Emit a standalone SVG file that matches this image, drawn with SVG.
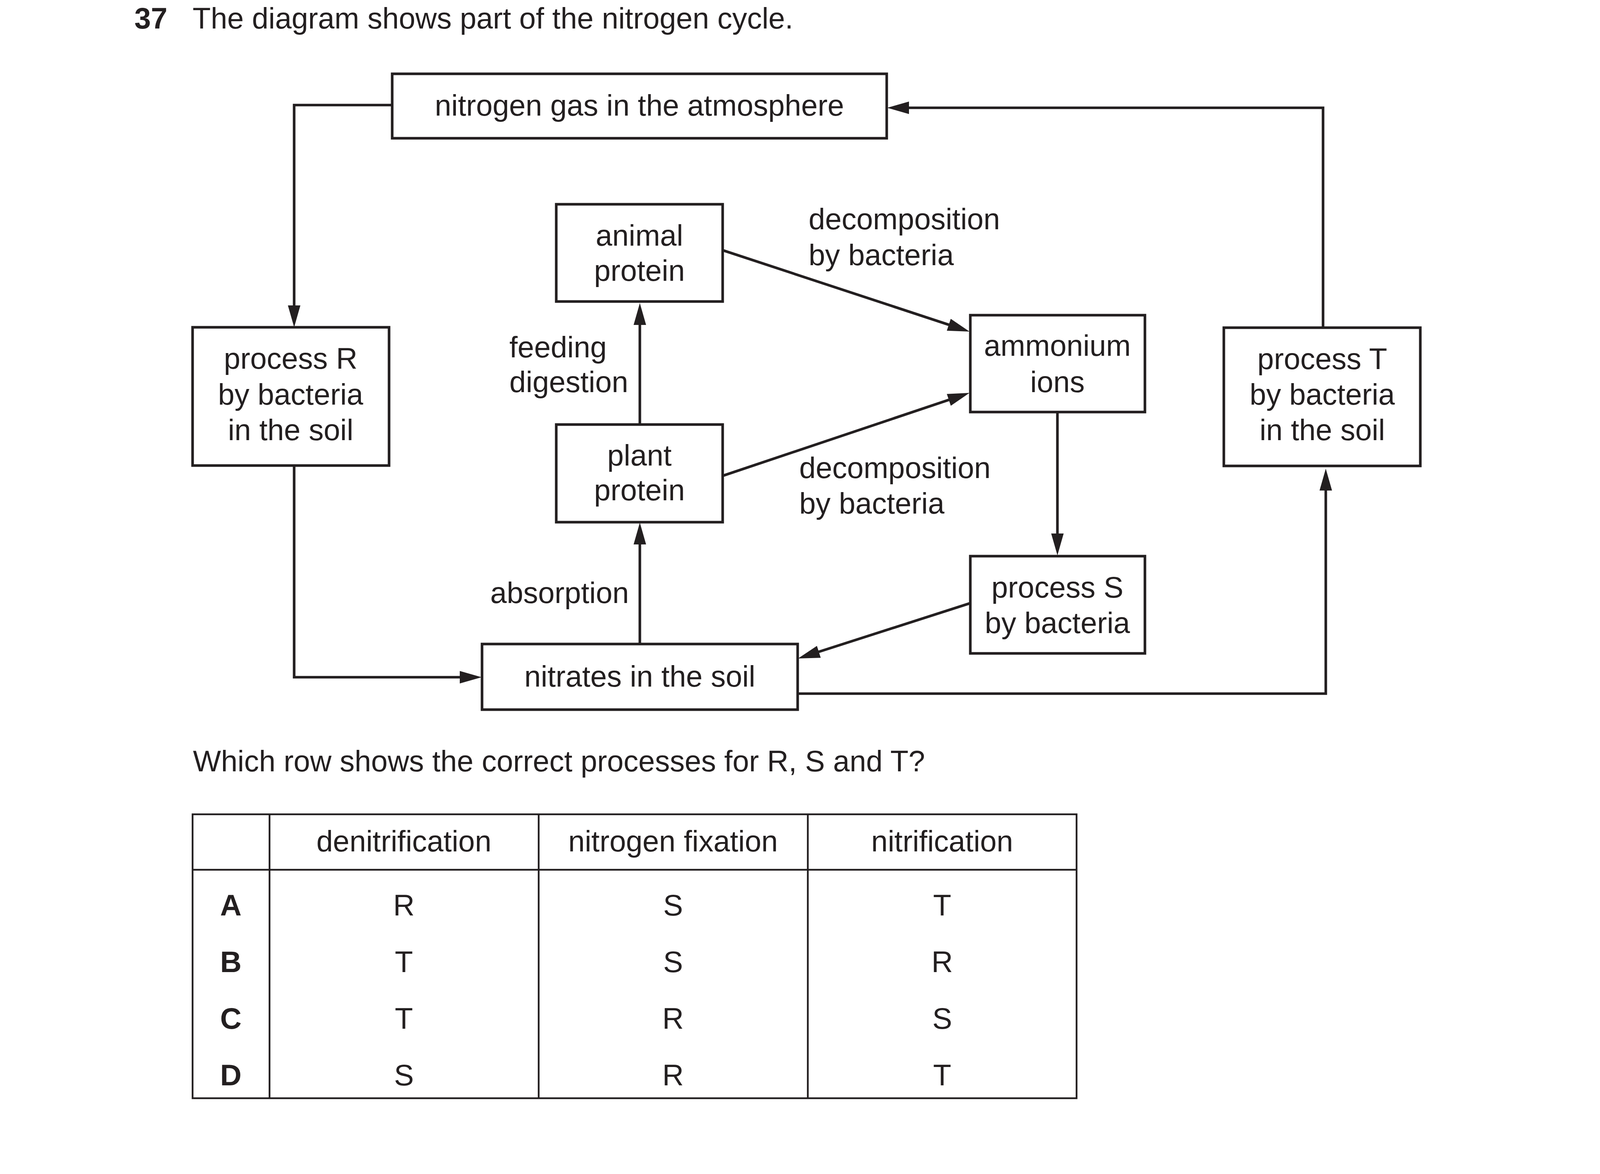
<svg xmlns="http://www.w3.org/2000/svg" width="4132" height="3006" viewBox="0 0 4132 3006">
<style>
  text { font-family: "Liberation Sans", Arial, sans-serif; font-size: 76px; fill: #231f20; }
  .c { text-anchor: middle; }
  .b { font-weight: bold; }
  .box { fill: #ffffff; stroke: #231f20; stroke-width: 6.7; }
  .ln { fill: none; stroke: #231f20; stroke-width: 6.7; }
  .tb { fill: none; stroke: #231f20; stroke-width: 4.5; }
</style>
<defs>
  <marker id="ah" markerUnits="userSpaceOnUse" markerWidth="60" markerHeight="36" refX="36" refY="16" orient="auto">
    <path d="M0,0 L56,16 L0,32 Z" fill="#231f20"/>
  </marker>
</defs>
<rect width="4132" height="3006" fill="#ffffff"/>

<text x="344" y="73" class="b">37</text>
<text x="493" y="73">The diagram shows part of the nitrogen cycle.</text>

<g id="connectors">
  <path class="ln" d="M1004,269 H753 V818" marker-end="url(#ah)"/>
  <path class="ln" d="M753,1193 V1734 H1213" marker-end="url(#ah)"/>
  <path class="ln" d="M2042,1776 H3394 V1220" marker-end="url(#ah)"/>
  <path class="ln" d="M3387,838 V276 H2291" marker-end="url(#ah)"/>
  <path class="ln" d="M1638,1087 V796" marker-end="url(#ah)"/>
  <path class="ln" d="M1638,1649 V1358" marker-end="url(#ah)"/>
  <path class="ln" d="M1851,641 L2463,842.7" marker-end="url(#ah)"/>
  <path class="ln" d="M1851,1218 L2463,1012.4" marker-end="url(#ah)"/>
  <path class="ln" d="M2707,1056 V1402" marker-end="url(#ah)"/>
  <path class="ln" d="M2482,1545 L2062,1679.9" marker-end="url(#ah)"/>
</g>

<g id="labels">
  <text x="2070" y="587">decomposition</text>
  <text x="2070" y="679">by bacteria</text>
  <text x="2046" y="1224">decomposition</text>
  <text x="2046" y="1315">by bacteria</text>
  <text x="1304" y="915">feeding</text>
  <text x="1304" y="1004">digestion</text>
  <text x="1255" y="1544">absorption</text>
</g>

<g id="nitrogen-gas">
  <rect class="box" x="1004" y="189" width="1266" height="165"/>
  <text class="c" x="1637" y="296">nitrogen gas in the atmosphere</text>
</g>
<g id="process-r">
  <rect class="box" x="493" y="838" width="503" height="354"/>
  <text class="c" x="744" y="944">process R</text>
  <text class="c" x="744" y="1036">by bacteria</text>
  <text class="c" x="744" y="1127">in the soil</text>
</g>
<g id="animal-protein">
  <rect class="box" x="1424" y="523" width="426" height="249"/>
  <text class="c" x="1637" y="629">animal</text>
  <text class="c" x="1637" y="719">protein</text>
</g>
<g id="plant-protein">
  <rect class="box" x="1424" y="1087" width="426" height="250"/>
  <text class="c" x="1637" y="1192">plant</text>
  <text class="c" x="1637" y="1281">protein</text>
</g>
<g id="ammonium-ions">
  <rect class="box" x="2484" y="807" width="447" height="248"/>
  <text class="c" x="2707" y="911">ammonium</text>
  <text class="c" x="2707" y="1004">ions</text>
</g>
<g id="process-s">
  <rect class="box" x="2484" y="1424" width="447" height="249"/>
  <text class="c" x="2707" y="1530">process S</text>
  <text class="c" x="2707" y="1621">by bacteria</text>
</g>
<g id="process-t">
  <rect class="box" x="3133" y="839" width="503" height="354"/>
  <text class="c" x="3385" y="945">process T</text>
  <text class="c" x="3385" y="1036">by bacteria</text>
  <text class="c" x="3385" y="1127">in the soil</text>
</g>
<g id="nitrates">
  <rect class="box" x="1234" y="1649" width="808" height="168"/>
  <text class="c" x="1638" y="1758">nitrates in the soil</text>
</g>

<text x="494" y="1975">Which row shows the correct processes for R, S and T?</text>

<g id="table">
  <rect class="tb" x="493" y="2085" width="2263" height="727"/>
  <line class="tb" x1="690" y1="2085" x2="690" y2="2812"/>
  <line class="tb" x1="1379" y1="2085" x2="1379" y2="2812"/>
  <line class="tb" x1="2068" y1="2085" x2="2068" y2="2812"/>
  <line class="tb" x1="493" y1="2227" x2="2756" y2="2227"/>
  <text class="c" x="1034" y="2180">denitrification</text>
  <text class="c" x="1723" y="2180">nitrogen fixation</text>
  <text class="c" x="2412" y="2180">nitrification</text>
  <text class="c b" x="591" y="2344">A</text>
  <text class="c" x="1034" y="2344">R</text>
  <text class="c" x="1723" y="2344">S</text>
  <text class="c" x="2412" y="2344">T</text>
  <text class="c b" x="591" y="2489">B</text>
  <text class="c" x="1034" y="2489">T</text>
  <text class="c" x="1723" y="2489">S</text>
  <text class="c" x="2412" y="2489">R</text>
  <text class="c b" x="591" y="2634">C</text>
  <text class="c" x="1034" y="2634">T</text>
  <text class="c" x="1723" y="2634">R</text>
  <text class="c" x="2412" y="2634">S</text>
  <text class="c b" x="591" y="2779">D</text>
  <text class="c" x="1034" y="2779">S</text>
  <text class="c" x="1723" y="2779">R</text>
  <text class="c" x="2412" y="2779">T</text>
</g>
</svg>
